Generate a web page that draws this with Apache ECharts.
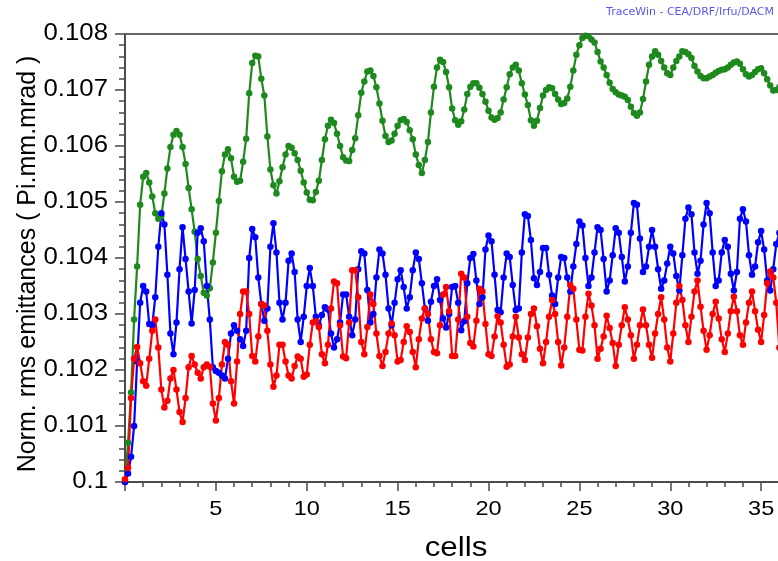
<!DOCTYPE html>
<html>
<head>
<meta charset="utf-8">
<script src="https://cdn.jsdelivr.net/npm/echarts/dist/echarts.min.js"></script>
<style>
  html, body { margin: 0; padding: 0; background: #fff; }
  #chart { width: 778px; height: 561px; }
</style>
</head>
<body>
<div id="chart"></div>
<script>
// Normalised rms emittances along the structure, sampled six times per cell.
const cellStep = 1 / 6;

// Longitudinal-plane emittance (green)
const emitZ = [
  0.10000, 0.10070, 0.10160, 0.10290, 0.10385, 0.10495,
  0.10545, 0.10552, 0.10535, 0.10510, 0.10480, 0.10470,
  0.10475, 0.10515, 0.10560, 0.10598, 0.10620, 0.10627,
  0.10620, 0.10598, 0.10568, 0.10525, 0.10487, 0.10447,
  0.10398, 0.10368, 0.10338, 0.10333, 0.10346, 0.10392,
  0.10445, 0.10502, 0.10555, 0.10585, 0.10594, 0.10578,
  0.10545, 0.10536, 0.10538, 0.10572, 0.10613, 0.10694,
  0.10748, 0.10761, 0.10760, 0.10720, 0.10690, 0.10617,
  0.10558, 0.10530, 0.10515, 0.10537, 0.10562, 0.10585,
  0.10600, 0.10597, 0.10587, 0.10575, 0.10556, 0.10535,
  0.10517, 0.10504, 0.10503, 0.10518, 0.10538, 0.10575,
  0.10612, 0.10636, 0.10647, 0.10641, 0.10622, 0.10600,
  0.10580, 0.10574, 0.10573, 0.10593, 0.10614, 0.10655,
  0.10695, 0.10715, 0.10733, 0.10735, 0.10725, 0.10705,
  0.10676, 0.10645, 0.10618, 0.10607, 0.10610, 0.10622,
  0.10636, 0.10646, 0.10648, 0.10643, 0.10628, 0.10612,
  0.10585, 0.10566, 0.10552, 0.10575, 0.10607, 0.10660,
  0.10706, 0.10740, 0.10754, 0.10750, 0.10732, 0.10705,
  0.10667, 0.10646, 0.10638, 0.10644, 0.10665, 0.10693,
  0.10706, 0.10712, 0.10712, 0.10704, 0.10693, 0.10679,
  0.10663, 0.10651, 0.10647, 0.10650, 0.10660, 0.10683,
  0.10705, 0.10728, 0.10740, 0.10745, 0.10735, 0.10712,
  0.10692, 0.10673, 0.10646, 0.10636, 0.10645, 0.10668,
  0.10690, 0.10700, 0.10705, 0.10703, 0.10693, 0.10683,
  0.10675, 0.10677, 0.10685, 0.10706, 0.10735, 0.10763,
  0.10780, 0.10793, 0.10797, 0.10796, 0.10790, 0.10785,
  0.10768, 0.10751, 0.10740, 0.10727, 0.10713, 0.10702,
  0.10696, 0.10692, 0.10690, 0.10688, 0.10682, 0.10670,
  0.10659, 0.10654, 0.10660, 0.10684, 0.10715, 0.10745,
  0.10760, 0.10769, 0.10763, 0.10752, 0.10740, 0.10730,
  0.10727, 0.10740, 0.10752, 0.10760, 0.10769, 0.10768,
  0.10764, 0.10757, 0.10743, 0.10733, 0.10725, 0.10721,
  0.10721, 0.10724, 0.10727, 0.10731, 0.10734, 0.10736,
  0.10737, 0.10740, 0.10745, 0.10749, 0.10751, 0.10747,
  0.10737, 0.10728, 0.10724, 0.10727, 0.10732, 0.10737,
  0.10739, 0.10730, 0.10719, 0.10708, 0.10699, 0.10700,
  0.10705
];

// Horizontal-plane emittance (blue)
const emitX = [
  0.10000, 0.10015, 0.10045, 0.10100, 0.10215, 0.10320,
  0.10350, 0.10340, 0.10282, 0.10280, 0.10330, 0.10420,
  0.10480, 0.10460, 0.10370, 0.10265, 0.10228, 0.10285,
  0.10380, 0.10455, 0.10398, 0.10340, 0.10283, 0.10343,
  0.10445, 0.10453, 0.10430, 0.10350, 0.10290, 0.10205,
  0.10198, 0.10195, 0.10190, 0.10185, 0.10220, 0.10265,
  0.10280, 0.10270, 0.10255, 0.10243, 0.10270, 0.10400,
  0.10452, 0.10437, 0.10365, 0.10318, 0.10288, 0.10310,
  0.10420, 0.10462, 0.10410, 0.10320, 0.10290, 0.10320,
  0.10395, 0.10408, 0.10375, 0.10290, 0.10250, 0.10295,
  0.10350, 0.10382, 0.10350, 0.10295, 0.10280, 0.10298,
  0.10312, 0.10308, 0.10265, 0.10240, 0.10255, 0.10285,
  0.10335, 0.10335, 0.10295, 0.10262, 0.10290, 0.10380,
  0.10412, 0.10408, 0.10343, 0.10285, 0.10300, 0.10365,
  0.10415, 0.10408, 0.10370, 0.10310, 0.10280, 0.10320,
  0.10362, 0.10378, 0.10348, 0.10310, 0.10330, 0.10378,
  0.10410, 0.10398, 0.10355, 0.10310, 0.10288, 0.10322,
  0.10350, 0.10362, 0.10325, 0.10292, 0.10276, 0.10300,
  0.10348, 0.10350, 0.10320, 0.10271, 0.10287, 0.10355,
  0.10400, 0.10407, 0.10360, 0.10318, 0.10330, 0.10415,
  0.10440, 0.10430, 0.10370, 0.10307, 0.10303, 0.10365,
  0.10408, 0.10402, 0.10352, 0.10307, 0.10310, 0.10410,
  0.10478, 0.10475, 0.10432, 0.10364, 0.10352, 0.10375,
  0.10418, 0.10418, 0.10370, 0.10333, 0.10318, 0.10365,
  0.10402, 0.10400, 0.10365, 0.10340, 0.10385, 0.10425,
  0.10465, 0.10458, 0.10400, 0.10350, 0.10365, 0.10410,
  0.10455, 0.10450, 0.10398, 0.10340, 0.10360, 0.10405,
  0.10453, 0.10445, 0.10402, 0.10358, 0.10385, 0.10445,
  0.10498, 0.10495, 0.10435, 0.10375, 0.10385, 0.10420,
  0.10450, 0.10420, 0.10380, 0.10345, 0.10360, 0.10390,
  0.10420, 0.10408, 0.10368, 0.10342, 0.10405, 0.10470,
  0.10490, 0.10478, 0.10410, 0.10372, 0.10395, 0.10460,
  0.10498, 0.10480, 0.10410, 0.10350, 0.10360, 0.10410,
  0.10432, 0.10420, 0.10372, 0.10342, 0.10375, 0.10470,
  0.10487, 0.10465, 0.10405, 0.10370, 0.10385, 0.10428,
  0.10448, 0.10415, 0.10360, 0.10342, 0.10380, 0.10425,
  0.10445
];

// Vertical-plane emittance (red)
const emitY = [
  0.10005, 0.10025, 0.10150, 0.10220, 0.10241, 0.10212,
  0.10180, 0.10172, 0.10220, 0.10270, 0.10290, 0.10240,
  0.10165, 0.10133, 0.10145, 0.10185, 0.10200, 0.10165,
  0.10125, 0.10107, 0.10150, 0.10205, 0.10225, 0.10210,
  0.10195, 0.10185, 0.10205, 0.10210, 0.10206, 0.10140,
  0.10110, 0.10150, 0.10210, 0.10250, 0.10245, 0.10180,
  0.10140, 0.10215, 0.10300, 0.10340, 0.10340, 0.10300,
  0.10225, 0.10215, 0.10260, 0.10318, 0.10315, 0.10270,
  0.10210, 0.10170, 0.10190, 0.10245, 0.10245, 0.10215,
  0.10190, 0.10185, 0.10207, 0.10224, 0.10220, 0.10188,
  0.10192, 0.10245, 0.10285, 0.10287, 0.10277, 0.10228,
  0.10212, 0.10245, 0.10310, 0.10358, 0.10355, 0.10280,
  0.10224, 0.10221, 0.10285, 0.10378, 0.10378, 0.10330,
  0.10250, 0.10228, 0.10277, 0.10335, 0.10318, 0.10265,
  0.10225, 0.10207, 0.10232, 0.10265, 0.10283, 0.10262,
  0.10215, 0.10218, 0.10250, 0.10278, 0.10268, 0.10232,
  0.10205, 0.10255, 0.10292, 0.10310, 0.10300, 0.10255,
  0.10232, 0.10230, 0.10280, 0.10335, 0.10348, 0.10305,
  0.10225, 0.10225, 0.10290, 0.10372, 0.10365, 0.10295,
  0.10248, 0.10242, 0.10288, 0.10345, 0.10340, 0.10282,
  0.10228, 0.10225, 0.10260, 0.10296, 0.10285, 0.10245,
  0.10206, 0.10210, 0.10260, 0.10295, 0.10258, 0.10228,
  0.10218, 0.10258, 0.10300, 0.10310, 0.10278, 0.10238,
  0.10212, 0.10250, 0.10295, 0.10325, 0.10300, 0.10250,
  0.10208, 0.10240, 0.10295, 0.10352, 0.10345, 0.10290,
  0.10236, 0.10235, 0.10295, 0.10336, 0.10315, 0.10280,
  0.10220, 0.10238, 0.10260, 0.10297, 0.10275, 0.10248,
  0.10207, 0.10245, 0.10280, 0.10312, 0.10290, 0.10262,
  0.10220, 0.10245, 0.10280, 0.10308, 0.10280, 0.10245,
  0.10222, 0.10265, 0.10300, 0.10330, 0.10290, 0.10240,
  0.10215, 0.10265, 0.10320, 0.10350, 0.10325, 0.10280,
  0.10250, 0.10295, 0.10340, 0.10360, 0.10313, 0.10270,
  0.10236, 0.10262, 0.10300, 0.10322, 0.10292, 0.10255,
  0.10232, 0.10265, 0.10305, 0.10331, 0.10305, 0.10262,
  0.10245, 0.10285, 0.10320, 0.10340, 0.10305, 0.10272,
  0.10250, 0.10298, 0.10355, 0.10376, 0.10365, 0.10320,
  0.10240
];

// Tick labels shown on the two axes
const xTickLabels = ['5', '10', '15', '20', '25', '30', '35'];
const yTickLabels = ['0.1', '0.101', '0.102', '0.103', '0.104', '0.105', '0.106', '0.107', '0.108'];

const toPoints = arr => arr.map((v, i) => [i * cellStep, v]);

const axisColor = '#4a4a4a';
const arial = '"Liberation Sans", Arial, sans-serif';
const wideScale = 1.12;   // the plot's lettering is slightly wide

const chart = echarts.init(document.getElementById('chart'), null, { renderer: 'canvas' });

const seriesDef = (name, data, color) => ({
  name,
  type: 'line',
  xAxisIndex: 0,
  yAxisIndex: 0,
  data: toPoints(data),
  symbol: 'circle',
  symbolSize: 6.5,
  showSymbol: true,
  lineStyle: { color, width: 2.2 },
  itemStyle: { color },
  z: 2
});

chart.setOption({
  animation: false,
  backgroundColor: '#ffffff',
  grid: { left: 125, top: 34, width: 727, height: 448, containLabel: false, outerBoundsMode: 'none' },
  xAxis: [
    {
      type: 'value',
      min: 0,
      max: 40,
      interval: 5,
      axisLine: { show: true, onZero: false, lineStyle: { color: axisColor, width: 2 } },
      axisTick: { show: true, length: 9, lineStyle: { color: axisColor, width: 1.5 } },
      minorTick: { show: true, splitNumber: 5, length: 5, lineStyle: { color: axisColor, width: 1.5 } },
      splitLine: { show: false },
      axisLabel: { show: false }
    },
    {
      type: 'value',
      position: 'top',
      min: 0,
      max: 40,
      axisLine: { show: true, onZero: false, lineStyle: { color: '#666', width: 2 } },
      axisTick: { show: false },
      axisLabel: { show: false },
      splitLine: { show: false }
    }
  ],
  yAxis: {
    type: 'value',
    min: 0.1,
    max: 0.108,
    interval: 0.001,
    axisLine: { show: true, onZero: false, lineStyle: { color: axisColor, width: 2 } },
    axisTick: { show: true, length: 10, lineStyle: { color: axisColor, width: 1.5 } },
    minorTick: { show: true, splitNumber: 5, length: 6, lineStyle: { color: axisColor, width: 1.5 } },
    splitLine: { show: false },
    axisLabel: { show: false }
  },
  series: [
    seriesDef('emitZ', emitZ, '#1e8a1e'),
    seriesDef('emitX', emitX, '#0000ff'),
    seriesDef('emitY', emitY, '#ff0000')
  ]
});

// Tick labels placed through the axis scales, drawn slightly widened.
const texts = [];
yTickLabels.forEach(t => {
  const py = chart.convertToPixel({ yAxisIndex: 0 }, Number(t));
  texts.push({
    type: 'text', x: 108, y: py, scaleX: wideScale, z: 10,
    style: { text: t, font: '23px ' + arial, fill: '#000', textAlign: 'right', textVerticalAlign: 'middle' }
  });
});
xTickLabels.forEach(t => {
  const px = chart.convertToPixel({ xAxisIndex: 0 }, Number(t));
  texts.push({
    type: 'text', x: px, y: 509, scaleX: wideScale, z: 10,
    style: { text: t, font: '21px ' + arial, fill: '#000', textAlign: 'center', textVerticalAlign: 'middle' }
  });
});

texts.push(
  {
    type: 'text', x: 456, y: 548, scaleX: wideScale, z: 10,
    style: { text: 'cells', font: '28px ' + arial, fill: '#000', textAlign: 'center', textVerticalAlign: 'middle' }
  },
  {
    type: 'text', x: 27.5, y: 264, rotation: Math.PI / 2, scaleY: 1.06, z: 10,
    style: { text: 'Norm. rms emittances ( Pi.mm.mrad )', font: '25px ' + arial, fill: '#000', textAlign: 'center', textVerticalAlign: 'middle' }
  },
  {
    type: 'text', x: 774, y: 12, z: 10,
    style: { text: 'TraceWin - CEA/DRF/Irfu/DACM', font: '11px "DejaVu Sans", Verdana, sans-serif', fill: '#5858f0', textAlign: 'right', textVerticalAlign: 'middle' }
  }
);

chart.setOption({ graphic: texts });
</script>
</body>
</html>
